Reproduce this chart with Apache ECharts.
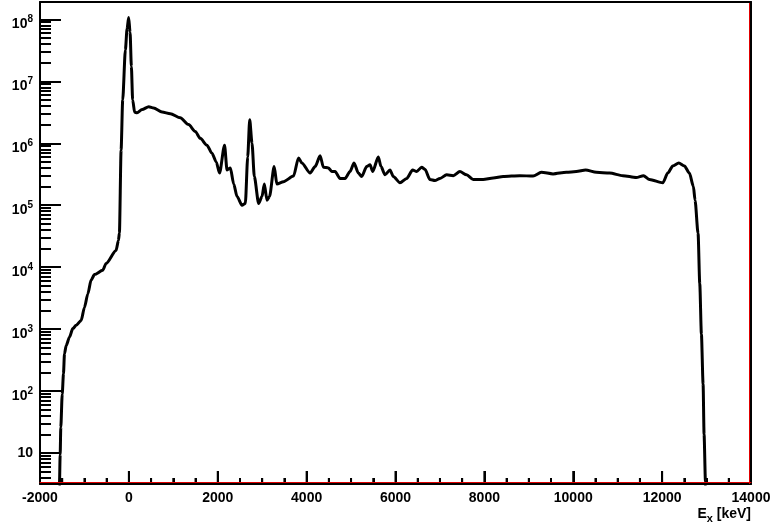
<!DOCTYPE html>
<html>
<head>
<meta charset="utf-8">
<script src="https://cdn.jsdelivr.net/npm/echarts@6/dist/echarts.min.js"></script>
<style>
  html, body { margin: 0; padding: 0; background: #fff; }
  #chart { width: 775px; height: 526px; }
</style>
</head>
<body>
<div id="chart"></div>
<script>
// excitation energy (keV) and counts
const energy = [
  -1580, -1562, -1546, -1532, -1500, -1472, -1449, -1412, -1337, -1262,
  -1187, -1074, -1000, -924, -850, -775, -588, -512, -288, -236,
  -213, -175, -139, -79, -40, -5, 27, 56, 85, 130,
  184, 297, 447, 557, 746, 933, 1157, 1344, 1494, 1607,
  1757, 1869, 1966, 2040, 2153, 2209, 2284, 2359, 2434, 2546,
  2621, 2674, 2719, 2771, 2823, 2920, 2996, 3048, 3108, 3164,
  3270, 3330, 3480, 3705, 3817, 3892, 4079, 4191, 4304, 4378,
  4490, 4565, 4640, 4752, 4865, 4977, 5067, 5164, 5239, 5352,
  5427, 5487, 5613, 5674, 5764, 5876, 5951, 6101, 6251, 6386,
  6476, 6588, 6663, 6775, 6887, 7000, 7150, 7300, 7449, 7599,
  7749, 7973, 8198, 8423, 8797, 9096, 9283, 9545, 9845, 10069,
  10278, 10519, 10818, 11117, 11417, 11581, 11716, 12015, 12127, 12240,
  12375, 12502, 12614, 12704, 12741, 12809, 12847, 12884, 12922, 12944,
  12975, 12995
];
const counts = [
  1, 3.2, 9.5, 26, 89, 190, 400, 540, 740, 1020,
  1150, 1380, 2240, 3700, 6200, 7600, 8900, 11500, 18600, 26900,
  35500, 7.8e5, 5.0e6, 3.2e7, 7.1e7, 1.07e8, 6.2e7, 1.74e7, 5.0e6, 3.16e6,
  3.1e6, 3.5e6, 3.9e6, 3.7e6, 3.2e6, 3.0e6, 2.57e6, 2.0e6, 1.55e6, 1.2e6,
  9.3e5, 6.9e5, 5.0e5, 3.3e5, 9.3e5, 3.7e5, 4.0e5, 2.2e5, 1.38e5, 1.0e5,
  1.07e5, 6.0e5, 2.4e6, 1.0e6, 2.9e5, 1.07e5, 1.38e5, 2.2e5, 1.2e5, 1.38e5,
  4.2e5, 2.2e5, 2.4e5, 2.95e5, 5.8e5, 4.8e5, 3.3e5, 4.2e5, 6.3e5, 4.1e5,
  4.0e5, 3.5e5, 3.5e5, 2.7e5, 2.7e5, 3.5e5, 4.8e5, 3.3e5, 2.9e5, 4.2e5,
  4.5e5, 3.5e5, 6.0e5, 4.2e5, 3.1e5, 3.7e5, 2.9e5, 2.3e5, 2.7e5, 3.7e5,
  3.5e5, 4.1e5, 3.8e5, 2.6e5, 2.5e5, 2.7e5, 3.1e5, 3.0e5, 3.5e5, 3.1e5,
  2.6e5, 2.6e5, 2.75e5, 2.9e5, 3.0e5, 2.95e5, 3.4e5, 3.2e5, 3.4e5, 3.5e5,
  3.7e5, 3.4e5, 3.3e5, 3.0e5, 2.8e5, 3.0e5, 2.6e5, 2.3e5, 3.3e5, 4.3e5,
  4.8e5, 4.3e5, 3.3e5, 2.0e5, 1.2e5, 3.5e4, 5400, 830, 130, 20,
  3.5, 1
];
const xMajorTicks = [-2000, 0, 2000, 4000, 6000, 8000, 10000, 12000, 14000];
const xMinorTicks = [];
for (let v = -2000; v <= 14000; v += 500) xMinorTicks.push(v);
const yMajorTicks = [10, 100, 1e3, 1e4, 1e5, 1e6, 1e7, 1e8];
const yMinorTicks = [];
[1, 10, 100, 1e3, 1e4, 1e5, 1e6, 1e7].forEach(function (d) {
  for (let k = 2; k <= 9; k++) yMinorTicks.push(k * d);
});
const xMin = -2000;
const xMax = 14000;
const yMin = Math.pow(10, 0.5);
const yMax = Math.pow(10, 8.28);

const font = 'Liberation Sans';
const black = '#000';
const red = '#e00000';

// an axis that only draws a frame line
function frameX(position, color, width, offset) {
  return {
    type: 'value', min: xMin, max: xMax, position: position, offset: offset, z: 10,
    axisLine: { show: true, onZero: false, lineStyle: { color: color, width: width } },
    axisTick: { show: false }, axisLabel: { show: false }, splitLine: { show: false }
  };
}
function frameY(position, color, width, offset) {
  return {
    type: 'log', min: yMin, max: yMax, position: position, offset: offset, z: 10,
    axisLine: { show: true, onZero: false, lineStyle: { color: color, width: width } },
    axisTick: { show: false }, axisLabel: { show: false }, splitLine: { show: false }
  };
}

const chart = echarts.init(document.getElementById('chart'));
chart.setOption({
  animation: false,
  backgroundColor: '#fff',
  grid: { left: 40, right: 24, top: 2, bottom: 42, show: false },
  xAxis: [
    {
      type: 'value',
      min: xMin,
      max: xMax,
      interval: 2000,
      position: 'bottom',
      axisLine: { show: true, onZero: false, lineStyle: { color: black, width: 2 } },
      axisTick: { show: true, inside: true, length: 13, lineStyle: { color: black, width: 2 } },
      minorTick: { show: true, splitNumber: 4, length: 6, lineStyle: { color: black, width: 2 } },
      splitLine: { show: false },
      axisLabel: {
        color: black, fontFamily: font, fontWeight: 'bold', fontSize: 14, margin: 7,
        formatter: function (v) { return String(v); }
      },
      name: '{a|E}{b|x}{a| [keV]}',
      nameLocation: 'end',
      nameGap: 0,
      nameTextStyle: {
        align: 'right',
        verticalAlign: 'top',
        padding: [20, 0, 0, 0],
        rich: {
          a: { fontFamily: font, fontWeight: 'bold', fontSize: 14, color: black },
          b: { fontFamily: font, fontWeight: 'bold', fontSize: 11, color: black, padding: [9, 0, 0, 0] }
        }
      }
    },
    frameX('top', black, 2, 0),
    frameX('bottom', red, 1, -2)
  ],
  yAxis: [
    {
      type: 'log',
      min: yMin,
      max: yMax,
      position: 'left',
      axisLine: { show: true, onZero: false, lineStyle: { color: black, width: 2 } },
      axisTick: { show: true, inside: true, length: 21, customValues: yMajorTicks, lineStyle: { color: black, width: 2 } },
      splitLine: { show: false },
      axisLabel: {
        customValues: yMajorTicks,
        margin: 7,
        formatter: function (v) {
          const e = Math.round(Math.log10(v));
          return e === 1 ? '{c|10}' : '{b|10}{s|' + e + '}';
        },
        rich: {
          c: { fontFamily: font, fontWeight: 'bold', fontSize: 14, color: black },
          b: { fontFamily: font, fontWeight: 'bold', fontSize: 14, color: black, padding: [10, 0, 0, 0] },
          s: { fontFamily: font, fontWeight: 'bold', fontSize: 10, color: black }
        }
      }
    },
    {
      type: 'log',
      min: yMin,
      max: yMax,
      position: 'left',
      axisLine: { show: false, onZero: false },
      axisTick: { show: true, inside: true, length: 11, customValues: yMinorTicks, lineStyle: { color: black, width: 2 } },
      axisLabel: { show: false },
      splitLine: { show: false }
    },
    frameY('right', black, 2, 0)
  ],
  series: [
    {
      type: 'line',
      xAxisIndex: 0,
      yAxisIndex: 0,
      data: energy.map(function (e, i) { return [e, counts[i]]; }),
      showSymbol: false,
      smooth: 0.25,
      smoothMonotone: 'x',
      clip: true,
      lineStyle: { color: black, width: 3 }
    },
    {
      // x-axis ticks, placed through the x scale
      type: 'custom',
      xAxisIndex: 0,
      yAxisIndex: 0,
      silent: true,
      clip: false,
      z: 6,
      data: xMinorTicks.map(function (v) { return [v, yMin, xMajorTicks.indexOf(v) >= 0 ? 13 : 6]; }),
      encode: { x: 0, y: 1 },
      renderItem: function (params, api) {
        const p = api.coord([api.value(0), api.value(1)]);
        const len = api.value(2);
        return {
          type: 'line',
          shape: { x1: p[0], y1: p[1], x2: p[0], y2: p[1] - len },
          style: { stroke: black, lineWidth: 2 }
        };
      }
    },
    {
      // thin red line along the inner edge of the right frame
      type: 'custom',
      xAxisIndex: 0,
      yAxisIndex: 0,
      silent: true,
      clip: false,
      z: 6,
      data: [[xMax, yMin]],
      encode: { x: 0, y: 1 },
      renderItem: function (params, api) {
        const lo = api.coord([xMax, yMin]);
        const hi = api.coord([xMax, yMax]);
        return {
          type: 'line',
          shape: { x1: lo[0] - 1.5, y1: lo[1], x2: hi[0] - 1.5, y2: hi[1] },
          style: { stroke: red, lineWidth: 1 }
        };
      }
    }
  ]
});
</script>
</body>
</html>
